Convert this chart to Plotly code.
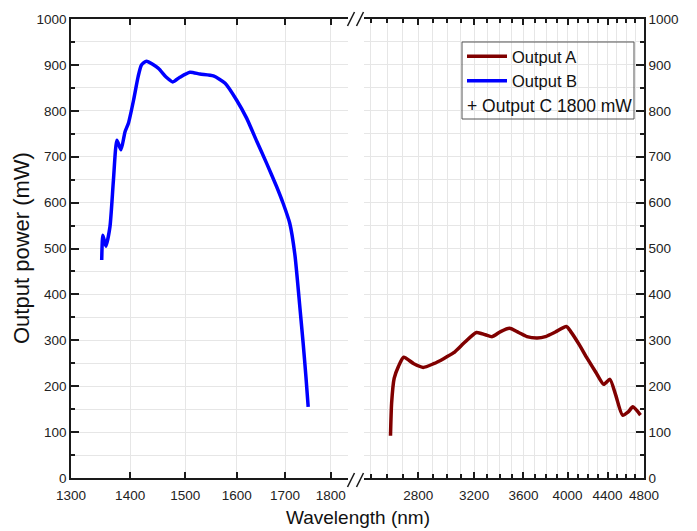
import numpy as np
import plotly.graph_objects as go

# ---- data ----
wl_b = [1351, 1353, 1358, 1365, 1371, 1377, 1384, 1391, 1397, 1406, 1414, 1420, 1429,
        1450, 1465, 1477, 1490, 1509, 1528, 1554, 1577, 1600, 1620, 1641, 1661, 1682,
        1696, 1710, 1721, 1732, 1739, 1745, 1750]
p_b = [475, 529, 505, 547, 649, 736, 715, 754, 773, 823, 874, 900, 908,
       893, 873, 863, 873, 884, 880, 876, 860, 823, 784, 733, 686, 635,
       598, 555, 487, 370, 293, 221, 155]

wl_a = [2621, 2628, 2644, 2671, 2705, 2771, 2834, 2905, 2975, 3048, 3123, 3218, 3287,
        3341, 3409, 3482, 3559, 3630, 3720, 3794, 3885, 3988, 4030, 4114, 4190, 4280,
        4361, 4425, 4486, 4560, 4623, 4673, 4760]
p_a = [92, 163, 217, 243, 263, 249, 241, 249, 260, 273, 294, 317, 312,
       308, 319, 326, 317, 308, 305, 308, 318, 330, 319, 290, 261, 230,
       204, 215, 181, 137, 144, 155, 137]

left_ticks = [1300, 1400, 1500, 1600, 1700, 1800]
right_ticks = [2800, 3200, 3600, 4000, 4400, 4800]
right_minor = [v for v in range(2500, 4800, 100) if v not in right_ticks]
y_ticks = list(range(0, 1001, 100))

names = ["Output A", "Output B"]
extra_legend = "+ Output C 1800 mW"

# ---- geometry ----
W, H = 697, 531
L, R, T, B = 71, 644, 19, 478


def px_x(p):
    return (p - L) / (R - L)


def px_y(p):
    return (B - p) / (B - T)


FONT = "Liberation Sans, Arial, sans-serif"
AX = "#1a1a1a"
GRID = "#e6e6e6"

fig = go.Figure()
fig.add_trace(go.Scatter(x=wl_a, y=p_a, name=names[0], mode="lines",
                         line=dict(color="#800000", width=3.5, shape="spline", smoothing=0.6),
                         xaxis="x2", yaxis="y2"))
fig.add_trace(go.Scatter(x=wl_b, y=p_b, name=names[1], mode="lines",
                         line=dict(color="#0000ff", width=3.5, shape="spline", smoothing=0.6),
                         xaxis="x", yaxis="y"))

common_x = dict(type="log", showline=True, linecolor=AX, linewidth=1.5, mirror="ticks",
                ticks="inside", ticklen=6, tickwidth=1.5, tickcolor=AX,
                showgrid=True, gridcolor=GRID, gridwidth=1, zeroline=False,
                ticklabelstandoff=4,
                tickfont=dict(family=FONT, size=13.5, color="#222"))
common_y = dict(range=[0, 1000], tickvals=y_ticks, showline=True, linecolor=AX, linewidth=1.5,
                ticks="inside", ticklen=8, tickwidth=1.5, tickcolor=AX,
                showgrid=True, gridcolor=GRID, gridwidth=1, zeroline=False,
                minor=dict(dtick=50, tick0=0, ticks="inside", ticklen=4, tickcolor=AX,
                           showgrid=True, gridcolor=GRID),
                tickfont=dict(family=FONT, size=13.5, color="#222"))

fig.update_layout(
    width=W, height=H,
    margin=dict(l=L, r=W - R, t=T, b=H - B),
    plot_bgcolor="white", paper_bgcolor="white",
    xaxis=dict(common_x, domain=[0, px_x(348)], range=[np.log10(1300), 3.2647],
               tickmode="array", tickvals=left_ticks, ticktext=[str(v) for v in left_ticks],
               anchor="y"),
    xaxis2=dict(common_x, domain=[px_x(364), 1], range=[3.3910, np.log10(4800)],
                tickmode="array", tickvals=right_ticks, ticktext=[str(v) for v in right_ticks],
                minor=dict(tickmode="array", tickvals=right_minor, ticks="inside", ticklen=4,
                           tickcolor=AX, showgrid=True, gridcolor=GRID),
                anchor="y2"),
    yaxis=dict(common_y, anchor="x", side="left"),
    yaxis2=dict(common_y, anchor="x2", side="right"),
    showlegend=True,
    legend=dict(x=px_x(462), y=px_y(39), xanchor="left", yanchor="top",
                bgcolor="rgba(0,0,0,0)", borderwidth=0, itemwidth=40,
                font=dict(family=FONT, size=16.5, color="#111"), tracegroupgap=0),
)

shapes = [dict(type="rect", xref="paper", yref="paper",
               x0=px_x(462), x1=px_x(634), y0=px_y(42), y1=px_y(119),
               line=dict(color="#555", width=1), fillcolor="rgba(0,0,0,0)")]
for yc in (B + 2, T):
    for xs in (347.5, 356.5):
        shapes.append(dict(type="line", xref="paper", yref="paper",
                           x0=px_x(xs), y0=px_y(yc + 7), x1=px_x(xs + 7), y1=px_y(yc - 7),
                           line=dict(color=AX, width=1.5)))
fig.update_layout(shapes=shapes)

fig.add_annotation(text=extra_legend, xref="paper", yref="paper", x=px_x(465), y=px_y(106),
                   xanchor="left", yanchor="middle", showarrow=False,
                   font=dict(family=FONT, size=17.5, color="#111"))
fig.add_annotation(text="Wavelength (nm)", xref="paper", yref="paper", x=px_x(358), y=px_y(517),
                   xanchor="center", yanchor="middle", showarrow=False,
                   font=dict(family=FONT, size=19, color="#111"))
fig.add_annotation(text="Output power (mW)", xref="paper", yref="paper", x=px_x(21), y=px_y(248),
                   xanchor="center", yanchor="middle", showarrow=False, textangle=-90,
                   font=dict(family=FONT, size=22, color="#111"))

fig.write_html("out.html", config={"displayModeBar": False},
               post_script="document.body.style.margin='0px';")
